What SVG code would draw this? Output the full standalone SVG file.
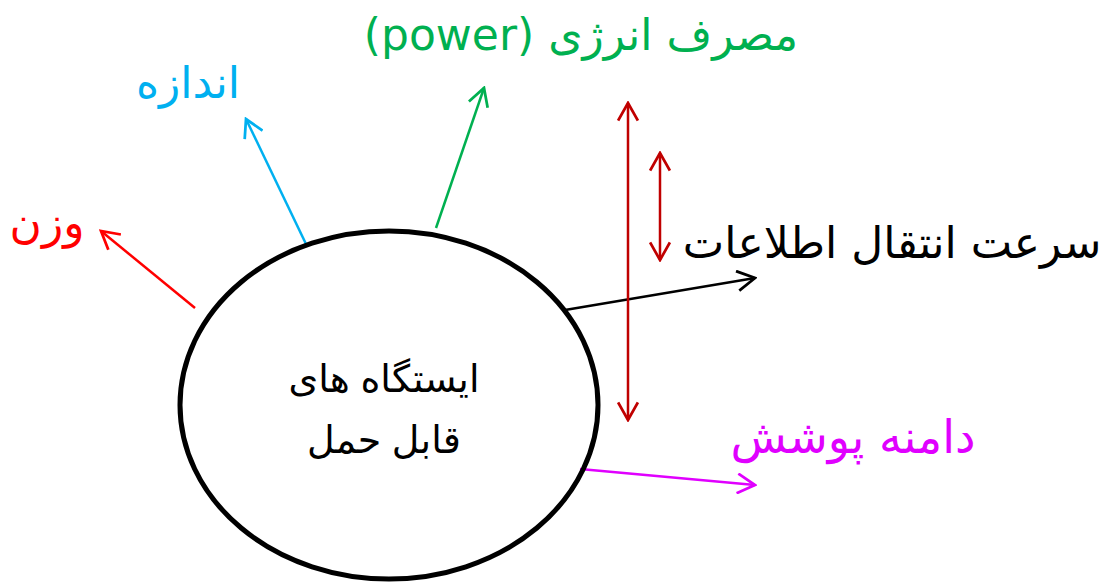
<svg xmlns="http://www.w3.org/2000/svg" width="1107" height="582" viewBox="0 0 1107 582">
<style>
.lbl{font-family:"DejaVu Sans","Noto Sans",sans-serif;text-anchor:middle;direction:rtl}
.ctr{font-family:"Liberation Sans","DejaVu Sans",sans-serif;text-anchor:middle;direction:rtl;font-size:38px;fill:#000}
.c{fill:none;stroke-width:2.5}
</style>
<defs>
<marker id="mR" viewBox="0 0 20 20" refX="18" refY="10" markerWidth="22" markerHeight="22" markerUnits="userSpaceOnUse" orient="auto-start-reverse"><path d="M2,1 L18,10 L2,19" fill="none" stroke="#ff0000" stroke-width="2.5"/></marker>
<marker id="mB" viewBox="0 0 20 20" refX="18" refY="10" markerWidth="22" markerHeight="22" markerUnits="userSpaceOnUse" orient="auto-start-reverse"><path d="M2,1 L18,10 L2,19" fill="none" stroke="#00b0f0" stroke-width="2.5"/></marker>
<marker id="mG" viewBox="0 0 20 20" refX="18" refY="10" markerWidth="22" markerHeight="22" markerUnits="userSpaceOnUse" orient="auto-start-reverse"><path d="M2,1 L18,10 L2,19" fill="none" stroke="#00b050" stroke-width="2.5"/></marker>
<marker id="mK" viewBox="0 0 20 20" refX="18" refY="10" markerWidth="22" markerHeight="22" markerUnits="userSpaceOnUse" orient="auto-start-reverse"><path d="M2,1 L18,10 L2,19" fill="none" stroke="#000" stroke-width="2.5"/></marker>
<marker id="mM" viewBox="0 0 20 20" refX="18" refY="10" markerWidth="22" markerHeight="22" markerUnits="userSpaceOnUse" orient="auto-start-reverse"><path d="M2,1 L18,10 L2,19" fill="none" stroke="#e000ff" stroke-width="2.5"/></marker>
<marker id="mD" viewBox="0 0 20 20" refX="18" refY="10" markerWidth="22" markerHeight="22" markerUnits="userSpaceOnUse" orient="auto-start-reverse"><path d="M2,1 L18,10 L2,19" fill="none" stroke="#c00000" stroke-width="2.5"/></marker>
</defs>
<rect width="1107" height="582" fill="#fff"/>
<g id="connectors">
<line class="c" x1="195" y1="308" x2="101" y2="231" stroke="#ff0000" marker-end="url(#mR)"/>
<line class="c" x1="306" y1="244" x2="246" y2="119" stroke="#00b0f0" marker-end="url(#mB)"/>
<line class="c" x1="436" y1="228" x2="484" y2="88" stroke="#00b050" marker-end="url(#mG)"/>
<line class="c" x1="565" y1="310" x2="755" y2="278" stroke="#000" marker-end="url(#mK)"/>
<line class="c" x1="580" y1="469" x2="755" y2="485" stroke="#e000ff" marker-end="url(#mM)"/>
<line class="c" x1="628" y1="103" x2="628" y2="420" stroke="#c00000" marker-start="url(#mD)" marker-end="url(#mD)"/>
<line class="c" x1="660" y1="153" x2="660" y2="260" stroke="#c00000" marker-start="url(#mD)" marker-end="url(#mD)"/>
</g>
<g id="node-station">
<ellipse cx="389" cy="405" rx="209" ry="174" fill="none" stroke="#000" stroke-width="5"/>
<text class="ctr" x="384" y="392">ایستگاه های</text>
<text class="ctr" x="384" y="453">قابل حمل</text>
</g>
<g id="label-weight"><text class="lbl" x="47" y="238" font-size="44" fill="#ff0000">وزن</text></g>
<g id="label-size"><text class="lbl" x="188" y="98" font-size="44" fill="#00b0f0">اندازه</text></g>
<g id="label-power"><text class="lbl" x="581" y="50" font-size="44" fill="#00b050">مصرف انرژی (power)</text></g>
<g id="label-speed"><text class="lbl" x="892" y="258" font-size="44" fill="#000">سرعت انتقال اطلاعات</text></g>
<g id="label-range"><text class="lbl" x="853" y="453" font-size="46" fill="#e000ff">دامنه پوشش</text></g>
</svg>
